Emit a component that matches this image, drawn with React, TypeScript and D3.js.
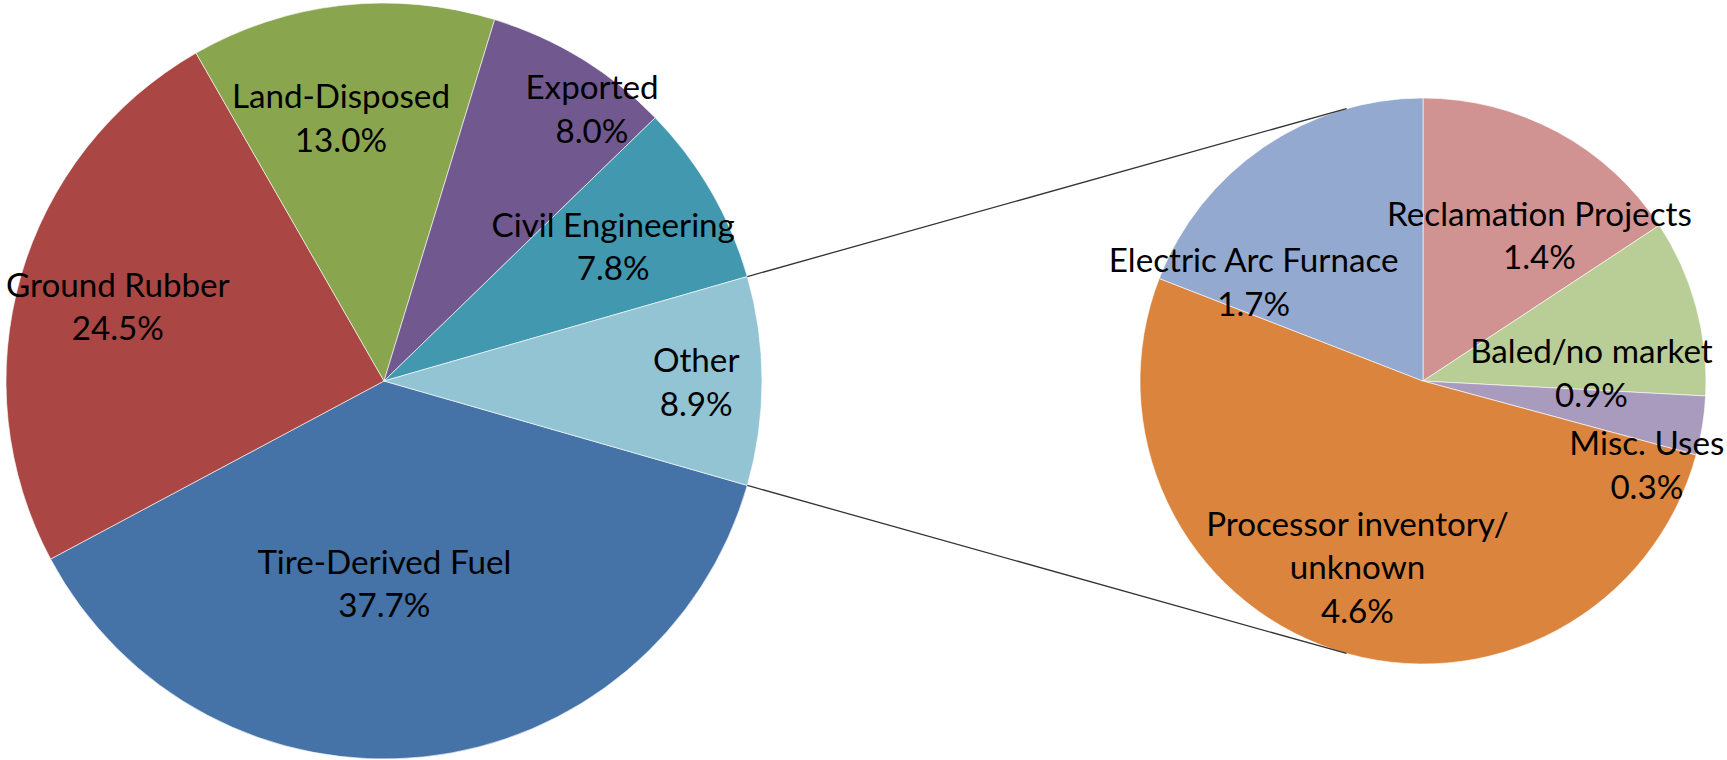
import React, { useMemo } from "react";
import * as d3 from "d3";

// ---- data ----
const mainCategories = ["Tire-Derived Fuel", "Ground Rubber", "Land-Disposed", "Exported", "Civil Engineering", "Other"];
const mainValues = [37.7, 24.5, 13.0, 8.0, 7.8, 8.9];
const mainColors = ["#4572A7", "#AA4643", "#89A54E", "#71588F", "#4198AF", "#93C4D4"];

const subCategories = ["Reclamation Projects", "Baled/no market", "Misc. Uses", "Processor inventory/\nunknown", "Electric Arc Furnace"];
const subValues = [1.4, 0.9, 0.3, 4.6, 1.7];
const subColors = ["#D19392", "#B9CD96", "#A99BBD", "#DB843D", "#93A9CF"];

// ---- layout (label anchors in polar: degrees clockwise from 12 o'clock, fraction of radius) ----
const mainLabelPolar = [
  [179.9, 0.536],
  [285.6, 0.731],
  [350.7, 0.705],
  [37.4, 0.906],
  [59.6, 0.703],
  [90.2, 0.826],
];
const subLabelPolar = [
  [38.7, 0.658],
  [87.3, 0.596],
  [110.6, 0.845],
  [199.4, 0.697],
  [300.3, 0.693],
];

const W = 1727;
const H = 760;
const C1 = { x: 384, y: 381, r: 378 };
const C2 = { x: 1423, y: 381, r: 283 };
const LINE_H = 43.5;
const FONT = "Lato, 'Open Sans', sans-serif";

function measureFontSize(): number {
  try {
    const c = document.createElement("canvas");
    const ctx = c.getContext("2d");
    if (!ctx) return 31;
    ctx.font = "40px Lato";
    const w = ctx.measureText("Tire-Derived Fuel").width;
    if (!w) return 31;
    return (40 * 254) / w;
  } catch (e) {
    return 31;
  }
}

function polar(c: { x: number; y: number; r: number }, deg: number, frac: number) {
  const a = (deg * Math.PI) / 180;
  return { x: c.x + c.r * frac * Math.sin(a), y: c.y - c.r * frac * Math.cos(a) };
}

function tangentPoint(p: { x: number; y: number }, c: { x: number; y: number; r: number }, upper: boolean) {
  const dx = p.x - c.x;
  const dy = p.y - c.y;
  const d = Math.sqrt(dx * dx + dy * dy);
  const theta = Math.atan2(dy, dx);
  const alpha = Math.acos(c.r / d);
  const t1 = { x: c.x + c.r * Math.cos(theta + alpha), y: c.y + c.r * Math.sin(theta + alpha) };
  const t2 = { x: c.x + c.r * Math.cos(theta - alpha), y: c.y + c.r * Math.sin(theta - alpha) };
  if (upper) return t1.y < t2.y ? t1 : t2;
  return t1.y > t2.y ? t1 : t2;
}

function Label({ x, y, lines, fs }: { x: number; y: number; lines: string[]; fs: number }) {
  const n = lines.length;
  return (
    <text textAnchor="middle" fontFamily={FONT} fontSize={fs} fill="#000">
      {lines.map((ln, i) => (
        <tspan key={i} x={x} y={y + (i - (n - 1) / 2) * LINE_H} dy="0.36em">
          {ln}
        </tspan>
      ))}
    </text>
  );
}

export default function App() {
  const fs = useMemo(() => measureFontSize(), []);

  const mainSum = d3.sum(mainValues);
  const otherIdx = mainCategories.indexOf("Other");
  const otherAngle = (2 * Math.PI * mainValues[otherIdx]) / mainSum;
  const mainStart = Math.PI / 2 + otherAngle / 2;

  const mainArcs = d3
    .pie<number>()
    .sort(null)
    .value((d) => d)
    .startAngle(mainStart)
    .endAngle(mainStart + 2 * Math.PI)(mainValues);

  const subArcs = d3
    .pie<number>()
    .sort(null)
    .value((d) => d)
    .startAngle(0)
    .endAngle(2 * Math.PI)(subValues);

  const arc1 = d3.arc<d3.PieArcDatum<number>>().innerRadius(0).outerRadius(C1.r);
  const arc2 = d3.arc<d3.PieArcDatum<number>>().innerRadius(0).outerRadius(C2.r);

  const oArc = mainArcs[otherIdx];
  const pTop = polar(C1, ((oArc.startAngle * 180) / Math.PI) % 360, 1);
  const pBot = polar(C1, ((oArc.endAngle * 180) / Math.PI) % 360, 1);
  const tTop = tangentPoint(pTop, C2, true);
  const tBot = tangentPoint(pBot, C2, false);

  return (
    <svg
      width={W}
      height={H}
      viewBox={`0 0 ${W} ${H}`}
      style={{ position: "absolute", left: 0, top: 0, background: "#fff" }}
    >
      <rect x={0} y={0} width={W} height={H} fill="#fff" />
      <g transform={`translate(${C1.x},${C1.y})`}>
        {mainArcs.map((a, i) => (
          <path key={i} d={arc1(a) || ""} fill={mainColors[i]} stroke="#fff" strokeOpacity={0.6} strokeWidth={1} />
        ))}
      </g>
      <g transform={`translate(${C2.x},${C2.y})`}>
        {subArcs.map((a, i) => (
          <path key={i} d={arc2(a) || ""} fill={subColors[i]} stroke="#fff" strokeOpacity={0.6} strokeWidth={1} />
        ))}
      </g>
      <line x1={pTop.x} y1={pTop.y} x2={tTop.x} y2={tTop.y} stroke="#333" strokeWidth={1.3} />
      <line x1={pBot.x} y1={pBot.y} x2={tBot.x} y2={tBot.y} stroke="#333" strokeWidth={1.3} />
      {mainCategories.map((c, i) => {
        const p = polar(C1, mainLabelPolar[i][0], mainLabelPolar[i][1]);
        return <Label key={"m" + i} x={p.x} y={p.y} fs={fs} lines={[...c.split("\n"), mainValues[i].toFixed(1) + "%"]} />;
      })}
      {subCategories.map((c, i) => {
        const p = polar(C2, subLabelPolar[i][0], subLabelPolar[i][1]);
        return <Label key={"s" + i} x={p.x} y={p.y} fs={fs} lines={[...c.split("\n"), subValues[i].toFixed(1) + "%"]} />;
      })}
    </svg>
  );
}
